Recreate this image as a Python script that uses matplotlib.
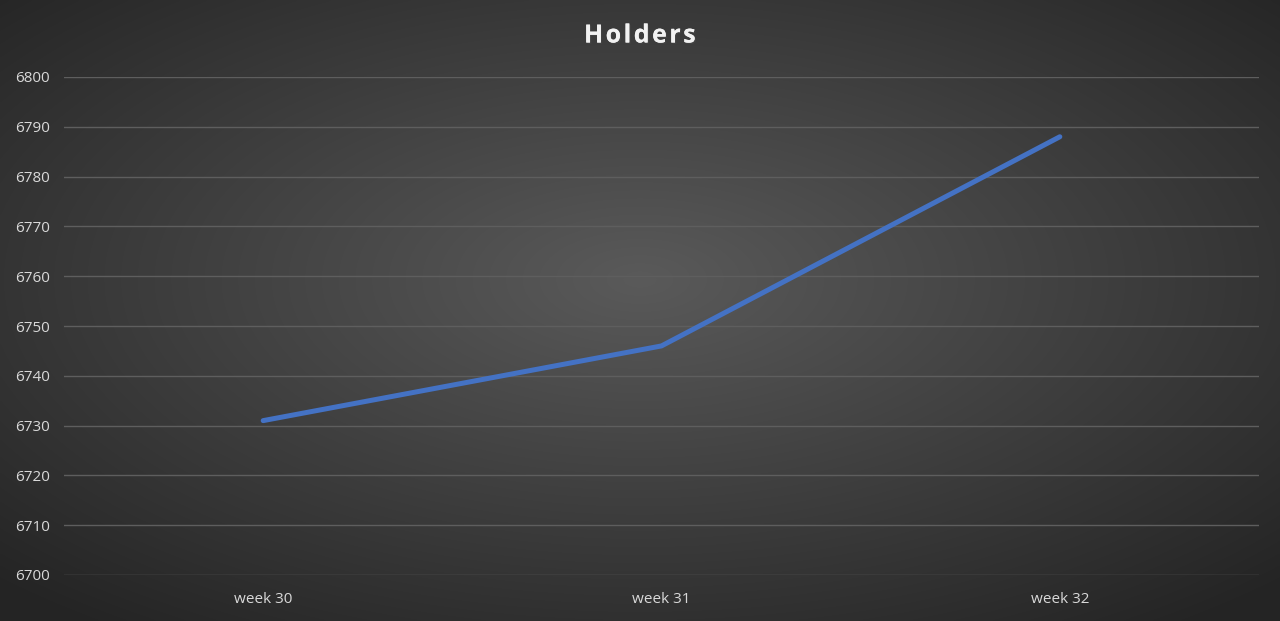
import numpy as np
import matplotlib.pyplot as plt
import matplotlib.patheffects as pe

weeks = ['week 30', 'week 31', 'week 32']
holders = [6731, 6746, 6788]
y_ticks = list(range(6700, 6801, 10))
title = 'Holders'

plt.rcParams['font.family'] = ['Open Sans', 'DejaVu Sans']

fig = plt.figure(figsize=(12.8, 6.21), dpi=100)

# radial gradient background
bg = fig.add_axes([0, 0, 1, 1], zorder=0)
gx, gy = np.meshgrid(np.linspace(-1, 1, 640), np.linspace(-1, 1, 310))
r = np.sqrt(gx ** 2 + (gy + 0.1) ** 2) / np.sqrt(2)
shade = 0x5a / 255 - (0x5a - 0x24) / 255 * np.clip(r, 0, 1)
bg.imshow(np.dstack([shade, shade, shade]), aspect='auto', extent=[0, 1, 0, 1],
          interpolation='bilinear')
bg.set_axis_off()

ax = fig.add_axes([64 / 1280, 1 - 575 / 621, (1259 - 64) / 1280, (575 - 77) / 621], zorder=1)
ax.patch.set_alpha(0)
x = np.arange(len(weeks))
ax.plot(x, holders, color='#4472C4', linewidth=3.6, solid_capstyle='round',
        solid_joinstyle='round')

ax.set_xlim(-0.5, len(weeks) - 0.5)
ax.set_ylim(6700, 6800)
ax.set_yticks(y_ticks)
ax.set_xticks(x)
ax.set_xticklabels(weeks)
ax.grid(axis='y', color='#5e5e5e', linewidth=1)
ax.set_axisbelow(True)
for s in ax.spines.values():
    s.set_visible(False)
ax.tick_params(length=0, colors='#d9d9d9', labelsize=11)
ax.tick_params(axis='y', pad=10)
ax.tick_params(axis='x', pad=12)

# letter-spaced title
fig.text(0.5, 1 - 36 / 621, '\u200a'.join(title), ha='center', va='center', color='#f2f2f2',
         fontsize=18, fontweight='bold',
         path_effects=[pe.withSimplePatchShadow(offset=(1, -1), alpha=0.5), pe.Normal()])

fig.savefig('out.png', dpi=100)
